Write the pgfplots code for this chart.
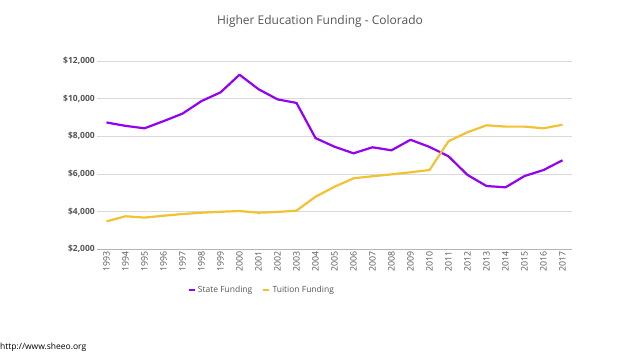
\documentclass[border=0pt]{standalone}
\usepackage{pgfplots}
\pgfplotsset{compat=1.18}
\usepackage{fontspec}
\setmainfont{Open Sans}
\definecolor{statec}{HTML}{9400F0}
\definecolor{tuitc}{HTML}{F1C232}
\definecolor{gridc}{HTML}{D9D9D9}
\definecolor{txtc}{HTML}{555555}
\begin{document}
\begin{tikzpicture}
\path[use as bounding box] (0,0) rectangle (630pt,354pt);
\node[text=txtc, font=\fontsize{12}{14}\selectfont] at (320pt,333pt) {Higher Education Funding - Colorado};
\node[anchor=south west, inner sep=0pt, font=\fontsize{8.5}{10}\selectfont] at (0pt,2pt) {http://www.sheeo.org};
\begin{axis}[
  at={(97pt,105pt)}, anchor=south west,
  scale only axis, width=475pt, height=188pt,
  xmin=-0.5, xmax=24.5, ymin=2000, ymax=12000,
  scaled y ticks=false,
  ytick={2000,4000,6000,8000,10000,12000},
  yticklabels={\$2{,}000,\$4{,}000,\$6{,}000,\$8{,}000,\$10{,}000,\$12{,}000},
  xtick={0,...,24},
  xticklabels={1993,1994,1995,1996,1997,1998,1999,2000,2001,2002,2003,2004,2005,2006,2007,2008,2009,2010,2011,2012,2013,2014,2015,2016,2017},
  xticklabel style={rotate=90, anchor=east, font=\fontsize{8.8}{10}\selectfont, text=txtc, inner sep=2pt},
  yticklabel style={font=\fontsize{8.5}{10}\selectfont\bfseries, text=txtc, inner sep=2pt},
  ymajorgrids, grid style={gridc, line width=0.6pt},
  axis x line*=bottom, axis y line*=left,
  x axis line style={draw=gridc!60!gray, line width=0.6pt, -},
  y axis line style={draw=none},
  tick style={draw=none},
  clip=false,
  legend columns=2,
  legend style={at={(0.347,-0.218)}, anchor=center, draw=none, fill=none,
    font=\fontsize{8.5}{10}\selectfont, text=txtc,
    /tikz/every even column/.append style={column sep=8pt}},
  legend image code/.code={\draw[#1, line width=2.2pt] (0pt,0pt) -- (6pt,0pt);},
]
\addplot[statec, line width=2.2pt, line join=round] coordinates {
(0,8730) (1,8550) (2,8420) (3,8800) (4,9200) (5,9870) (6,10330) (7,11270) (8,10500) (9,9960) (10,9770) (11,7900) (12,7440) (13,7090) (14,7410) (15,7250) (16,7810) (17,7430) (18,6930) (19,5940) (20,5350) (21,5280) (22,5880) (23,6200) (24,6720)};
\addlegendentry{State Funding}
\addplot[tuitc, line width=2.2pt, line join=round] coordinates {
(0,3470) (1,3740) (2,3670) (3,3770) (4,3860) (5,3930) (6,3980) (7,4020) (8,3930) (9,3970) (10,4040) (11,4780) (12,5310) (13,5760) (14,5870) (15,5970) (16,6080) (17,6200) (18,7730) (19,8210) (20,8580) (21,8510) (22,8510) (23,8420) (24,8610)};
\addlegendentry{Tuition Funding}
\end{axis}
\end{tikzpicture}
\end{document}
